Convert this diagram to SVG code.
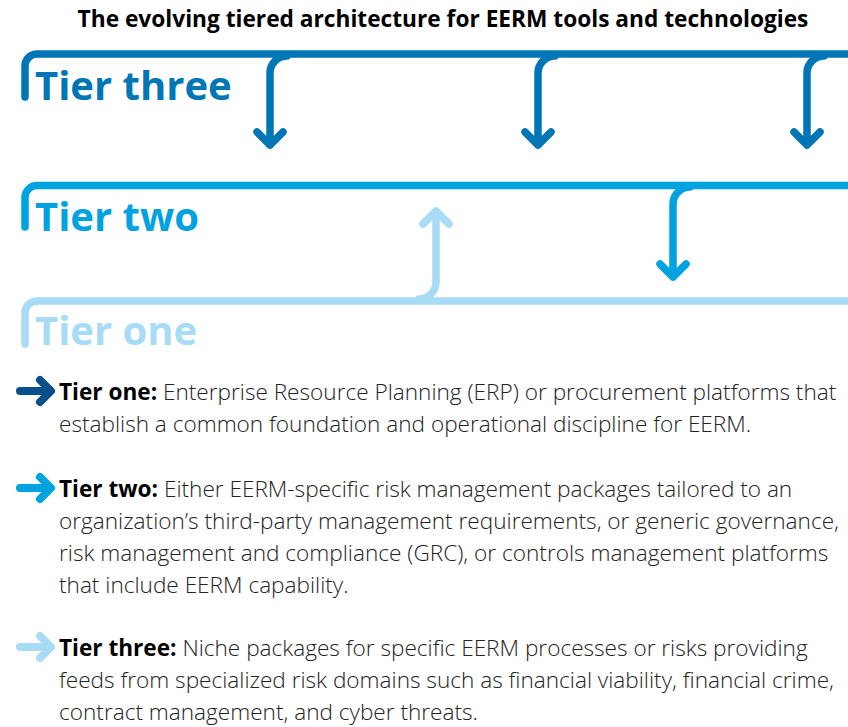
<svg xmlns="http://www.w3.org/2000/svg" width="848" height="727" viewBox="0 0 848 727">
<style>
.title{font-family:"Open Sans","Liberation Sans",sans-serif;font-weight:700;font-size:22.7px;fill:#000}
.tier{font-family:"Open Sans","Liberation Sans",sans-serif;font-weight:700;font-size:40px}
.ln{fill:none;stroke-width:7.5;stroke-linecap:round;stroke-linejoin:round}
.t3{stroke:#0076b6}.t2{stroke:#00a3e0}.t1{stroke:#a7dbf6}
.body{font-family:"Open Sans","Liberation Sans",sans-serif;font-weight:300;font-size:22.6px;fill:#222}
.b{font-weight:700;fill:#000}
.la{fill:none;stroke-width:8;stroke-linecap:round;stroke-linejoin:round}
</style>
<rect width="848" height="727" fill="#fff"/>
<text class="title" x="443" y="27" text-anchor="middle">The evolving tiered architecture for EERM tools and technologies</text>

<g id="tier-three">
  <path class="ln t3" d="M25 97 L25 66 A12 12 0 0 1 37 54 L852 54"/>
  <text class="tier" x="35" y="100" fill="#0076b6">Tier three</text>
</g>
<g id="tier-two">
  <path class="ln t2" d="M25 227 L25 197 A12 12 0 0 1 37 185.5 L852 185.5"/>
  <text class="tier" x="35" y="231" fill="#00a3e0">Tier two</text>
</g>
<g id="tier-one">
  <path class="ln t1" d="M25 344 L25 313 A12 12 0 0 1 37 301 L852 301"/>
  <text class="tier" x="35" y="345" fill="#a7dbf6">Tier one</text>
</g>

<g id="connectors">
  <path class="ln t3" d="M287 56 A17 17 0 0 0 270 73 L270 145 M257 132 L270 145 L283 132"/>
  <path class="ln t3" d="M555 56 A17 17 0 0 0 538 73 L538 145 M525 132 L538 145 L551 132"/>
  <path class="ln t3" d="M824 56 A17 17 0 0 0 807 73 L807 145 M794 132 L807 145 L820 132"/>
  <path class="ln t2" d="M690 187 A17 17 0 0 0 673 204 L673 277 M660 264 L673 277 L686 264"/>
  <path class="ln t1" d="M419 299 A17 17 0 0 0 436 282 L436 211 M423 224 L436 211 L449 224"/>
</g>

<g id="legend-tier-one">
  <path class="la" stroke="#0b4f8a" d="M20 391 L49 391 M40 380 L51 391 L40 402"/>
  <text class="body" x="59" y="400"><tspan class="b">Tier one:</tspan> Enterprise Resource Planning (ERP) or procurement platforms that</text>
  <text class="body" x="59" y="432">establish a common foundation and operational discipline for EERM.</text>
</g>
<g id="legend-tier-two">
  <path class="la" stroke="#00a3e0" d="M20 488 L49 488 M40 477 L51 488 L40 499"/>
  <text class="body" x="59" y="497"><tspan class="b">Tier two:</tspan> Either EERM-specific risk management packages tailored to an</text>
  <text class="body" x="59" y="529">organization’s third-party management requirements, or generic governance,</text>
  <text class="body" x="59" y="561">risk management and compliance (GRC), or controls management platforms</text>
  <text class="body" x="59" y="593">that include EERM capability.</text>
</g>
<g id="legend-tier-three">
  <path class="la" stroke="#a7dbf6" d="M20 647 L49 647 M40 636 L51 647 L40 658"/>
  <text class="body" x="59" y="656"><tspan class="b">Tier three:</tspan> Niche packages for specific EERM processes or risks providing</text>
  <text class="body" x="59" y="688">feeds from specialized risk domains such as financial viability, financial crime,</text>
  <text class="body" x="59" y="720">contract management, and cyber threats.</text>
</g>
</svg>
